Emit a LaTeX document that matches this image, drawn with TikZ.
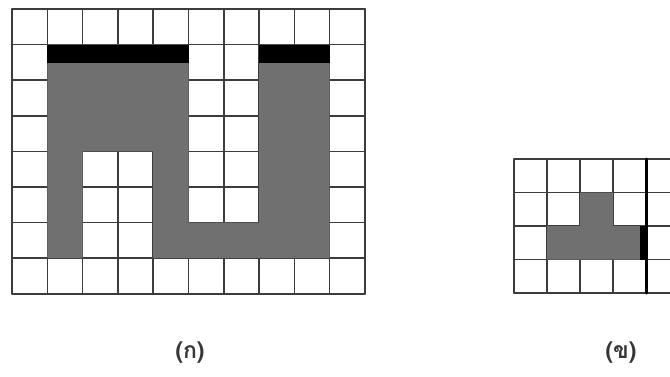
\documentclass[tikz,border=0pt]{standalone}
\usepackage{fontspec}
\newfontfamily\thaifont[Script=Thai]{Loma}
\definecolor{cellgray}{RGB}{112,112,112}
\definecolor{gridline}{RGB}{60,60,60}
\definecolor{labeltext}{RGB}{55,55,55}

\begin{document}
\begin{tikzpicture}[x=1bp, y=1bp, line cap=round, line join=round,
  gridrule/.style={draw=gridline, line width=1.5bp},
  shade/.style={fill=cellgray},
  band/.style={fill=black},
  caption/.style={inner sep=0pt, outer sep=0pt, text=labeltext,
    font=\thaifont\bfseries\fontsize{23bp}{26bp}\selectfont}]
  \useasboundingbox (0,0) rectangle (670,-376);
  \clip (0,0) rectangle (670,-376);
  % grid (a): 10 x 8 cells
  \foreach \gx in {12,47.3,82.6,117.9,153.2,188.5,223.8,259.1,294.4,329.7,365}
    \path[gridrule] (\gx,-9) -- (\gx,-293.8);
  \foreach \gy in {-9,-44.6,-80.2,-115.8,-151.4,-187,-222.6,-258.2,-293.8}
    \path[gridrule] (12,\gy) -- (365,\gy);
  \path[shade] (47.3,-44.6) -- (188.5,-44.6) -- (188.5,-222.6) -- (259.1,-222.6)
    -- (259.1,-44.6) -- (329.7,-44.6) -- (329.7,-258.2) -- (153.2,-258.2)
    -- (153.2,-151.4) -- (82.6,-151.4) -- (82.6,-258.2) -- (47.3,-258.2) -- cycle;
  \path[band] (47.3,-44.6) rectangle (188.5,-62.5);
  \path[band] (259.1,-44.6) rectangle (329.7,-62.5);
  % grid (b): 5 x 4 cells, cut at the right edge
  \foreach \gx in {514,547,580,613,679}
    \path[gridrule] (\gx,-159) -- (\gx,-293);
  \foreach \gy in {-159,-192.5,-226,-259.5,-293}
    \path[gridrule] (514,\gy) -- (679,\gy);
  \path[shade] (547,-226) -- (580,-226) -- (580,-192.5) -- (613,-192.5)
    -- (613,-226) -- (646,-226) -- (646,-259.5) -- (547,-259.5) -- cycle;
  \path[band] (640,-226) rectangle (646,-259.5);
  \path[draw=black, line width=3bp] (646,-159) -- (646,-293);
  % captions
  \node[caption] (capA) at (190,-353) {(ก)};
  \node[caption] (capB) at (621,-353) {(ข)};
\end{tikzpicture}
\end{document}
